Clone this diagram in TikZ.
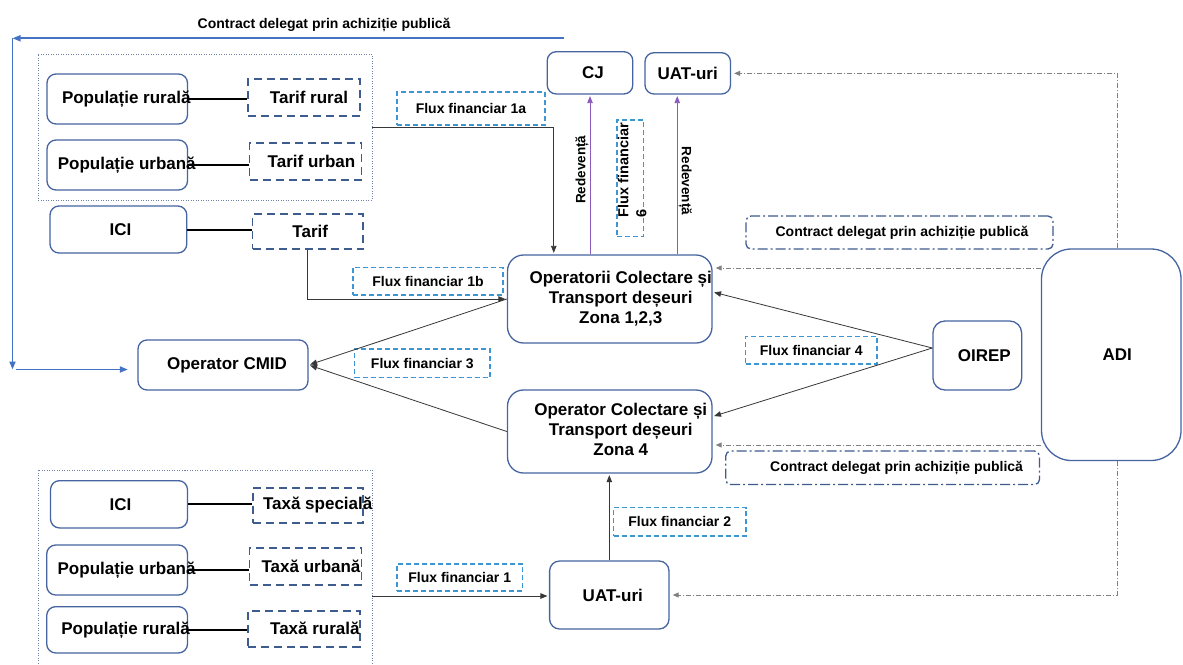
\documentclass[tikz,border=0pt]{standalone}
\usepackage{fontspec}
\setmainfont{Liberation Sans}
\usetikzlibrary{arrows.meta,calc}
\definecolor{boxc}{RGB}{70,100,160}
\definecolor{tarc}{RGB}{62,92,142}
\definecolor{fluxc}{RGB}{60,150,210}
\definecolor{grpc}{RGB}{110,130,170}
\definecolor{conc}{RGB}{55,55,55}
\definecolor{purc}{RGB}{140,90,190}
\definecolor{greyc}{RGB}{128,128,128}
\definecolor{bluc}{RGB}{68,114,196}
\newcommand{\sh}[2]{\makebox[0pt]{\hspace*{#1}#2}}
\tikzset{
 rbox/.style={draw=boxc, line width=1.3pt, rounded corners=9pt, inner sep=0pt, font=\bfseries\fontsize{17}{20}\selectfont},
 tbox/.style={draw=tarc, line width=1.8pt, dash pattern=on 8pt off 5pt, inner sep=0pt, font=\bfseries\fontsize{17}{20}\selectfont},
 fbox/.style={draw=fluxc, line width=1.4pt, dash pattern=on 5pt off 3pt, inner sep=0pt, font=\bfseries\fontsize{14}{17}\selectfont},
 cbox/.style={draw=tarc, line width=1.3pt, dash pattern=on 10pt off 3pt on 2pt off 3pt, rounded corners=5pt, inner sep=0pt, font=\bfseries\fontsize{14}{17}\selectfont},
 grp/.style={draw=grpc, line width=0.8pt, dash pattern=on 1pt off 1.5pt, inner sep=0pt},
 con/.style={draw=conc, line width=0.8pt, shorten >=1.5pt, -{Triangle[length=7pt,width=5.5pt]}},
 pur/.style={draw=purc, line width=0.9pt, shorten >=1.5pt, -{Triangle[length=7pt,width=5.5pt]}},
 gda/.style={draw=greyc, line width=1pt, dash pattern=on 5pt off 2pt on 1pt off 2pt, shorten >=3pt, -{Triangle[length=6pt,width=5pt]}},
 blu/.style={draw=bluc, line width=1.8pt, -{Triangle[length=8pt,width=6pt]}},
 lnk/.style={draw=black, line width=2pt},
 lbl/.style={font=\bfseries\fontsize{13.5}{16}\selectfont, inner sep=1pt},
}
\begin{document}
\begin{tikzpicture}[x=1pt,y=-1pt]
\useasboundingbox (0,0) rectangle (1183,664);
\fill[white] (0,0) rectangle (1183,664);

% group frames
\node[grp, minimum width=334pt, minimum height=146pt] (grp1) at (205,127) {};
\node[grp, minimum width=334pt, minimum height=252pt] (grp2) at (205,596) {};

% top-left boxes
\node[rbox, minimum width=140.5pt, minimum height=50pt] (popr1) at (117.25,99) {\sh{18pt}{Populație rurală}};
\node[rbox, minimum width=140.5pt, minimum height=50pt] (popu1) at (117.25,165) {\sh{19pt}{Populație urbană}};
\node[rbox, minimum width=136.8pt, minimum height=47pt] (iciA) at (118.4,229.5) {\sh{4pt}{ICI}};
\node[tbox, minimum width=112pt, minimum height=37pt] (tarr1) at (304,97.5) {\sh{10pt}{Tarif rural}};
\node[tbox, minimum width=112pt, minimum height=37pt] (taru1) at (305.5,161.5) {\sh{12pt}{Tarif urban}};
\node[tbox, minimum width=110.5pt, minimum height=35pt] (tarI) at (307.75,231.5) {\sh{5pt}{Tarif}};

% bottom-left boxes
\node[rbox, minimum width=137pt, minimum height=47.3pt] (iciB) at (119,504.3) {\sh{3pt}{ICI}};
\node[rbox, minimum width=140.8pt, minimum height=50pt] (popu2) at (117.1,570) {\sh{19pt}{Populație urbană}};
\node[rbox, minimum width=140.8pt, minimum height=46.3pt] (popr2) at (117.1,629.8) {\sh{17pt}{Populație rurală}};
\node[tbox, minimum width=110.2pt, minimum height=35pt] (taxs) at (307.7,505.5) {\sh{20pt}{Taxă specială}};
\node[tbox, minimum width=112pt, minimum height=37pt] (taxu) at (305.5,566.5) {\sh{11pt}{Taxă urbană}};
\node[tbox, minimum width=111.7pt, minimum height=35.7pt] (taxr) at (303.85,628.8) {\sh{22pt}{Taxă rurală}};

% main boxes
\node[rbox, minimum width=85.6pt, minimum height=42.3pt] (cj) at (590,72.85) {\sh{6pt}{CJ}};
\node[rbox, minimum width=85.5pt, minimum height=41.3pt] (uat1) at (687.75,73.35) {UAT-uri};
\node[rbox, rounded corners=16pt, minimum width=204.5pt, minimum height=88pt] (op) at (609.75,299) {\sh{22pt}{\begin{tabular}{@{}c@{}}Operatorii Colectare și\\Transport deșeuri\\Zona 1,2,3\end{tabular}}};
\node[rbox, rounded corners=16pt, minimum width=204.5pt, minimum height=83pt] (z4) at (609.75,431.5) {\sh{22pt}{\begin{tabular}{@{}c@{}}Operator Colectare și\\Transport deșeuri\\Zona 4\end{tabular}}};
\node[rbox, minimum width=170pt, minimum height=50pt] (cmid) at (223,365) {\sh{8pt}{Operator CMID}};
\node[rbox, rounded corners=12pt, minimum width=88.7pt, minimum height=69pt] (oirep) at (977.3,355.5) {\sh{14pt}{OIREP}};
\node[rbox, rounded corners=30pt, minimum width=139.5pt, minimum height=211.5pt] (adi) at (1111.25,354.75) {\sh{12pt}{ADI}};
\node[rbox, rounded corners=10pt, minimum width=119.4pt, minimum height=68pt] (uat2) at (609.3,595) {\sh{7pt}{UAT-uri}};

% flux labels
\node[fbox, minimum width=148pt, minimum height=33pt] (fl1a) at (471,108.5) {Flux financiar 1a};
\node[fbox, minimum width=150pt, minimum height=27.3pt] (fl1b) at (428,281.3) {Flux financiar 1b};
\node[fbox, minimum width=135.4pt, minimum height=28.7pt] (fl3) at (422.3,363.3) {Flux financiar 3};
\node[fbox, minimum width=131.5pt, minimum height=27.3pt] (fl4) at (811.25,350.3) {Flux financiar 4};
\node[fbox, minimum width=132.5pt, minimum height=28.3pt] (fl2) at (679.75,521.8) {Flux financiar 2};
\node[fbox, minimum width=125.4pt, minimum height=27pt] (fl1) at (459.7,577.5) {Flux financiar 1};
\node[fbox, minimum width=26.8pt, minimum height=116.7pt] (fl6) at (630.2,178.3) {};
\node[rotate=90, align=left, inner sep=0pt, font=\bfseries\fontsize{14.5}{18}\selectfont] (fl6t) at ([yshift=8pt,xshift=2pt]fl6.center) {Flux financiar\\6};

% contract labels
\node[cbox, minimum width=307pt, minimum height=33pt] (ct1) at (899.5,232.5) {\sh{5pt}{Contract delegat prin achiziție publică}};
\node[cbox, minimum width=313.8pt, minimum height=33.5pt] (ct2) at (882.6,467.8) {\sh{28pt}{Contract delegat prin achiziție publică}};

% links population - tariff
\draw[lnk] (popr1.east) -- (popr1.east -| tarr1.west);
\draw[lnk] (popu1.east) -- (popu1.east -| taru1.west);
\draw[lnk] (iciA.east) -- (iciA.east -| tarI.west);
\draw[lnk] (iciB.east) -- (iciB.east -| taxs.west);
\draw[lnk] (popu2.east) -- (popu2.east -| taxu.west);
\draw[lnk] (popr2.east) -- (popr2.east -| taxr.west);

% financial flows
\draw[con] (grp1.east) -| ([xshift=-56pt]op.north);
\draw[con] (tarI.south) |- (op.west);
\draw[con] (op.west) -- (cmid.east);
\draw[con] (z4.west) -- (cmid.east);
\coordinate (oi) at ([yshift=7.5pt]oirep.west);
\draw[con] (oi) -- ([yshift=7pt]op.east);
\draw[con] (oi) -- ([yshift=15pt]z4.east);
\draw[con] (uat2.north) -- (uat2.north |- z4.south);
\draw[con] (grp2.east) -- (grp2.east -| uat2.west);

% redevente
\draw[pur] (op.north -| cj.south) -- node[lbl, rotate=90, anchor=south, pos=0.53] {Redevență} (cj.south);
\coordinate (ru) at ([xshift=-10.5pt]uat1.south);
\draw[pur] (ru |- op.north) -- node[lbl, rotate=-90, anchor=south, pos=0.46] {Redevență} (ru);

% contracts from ADI
\coordinate (a1) at ([yshift=31pt]op.east);
\draw[gda] (a1 -| adi.west) -- (a1);
\coordinate (a2) at ([yshift=-13.5pt]z4.east);
\draw[gda] (a2 -| adi.west) -- (a2);
\draw[gda] ([xshift=6pt]adi.north) |- (uat1.east);
\draw[gda] ([xshift=6pt]adi.south) |- (uat2.east);

% blue contract line to CMID
\coordinate (bs) at (564,38.3);
\coordinate (bc) at (12.5,38.3);
\draw[blu] (bs) -- node[pos=0.435, anchor=base, yshift=10pt, inner sep=0pt, font=\bfseries\fontsize{14}{17}\selectfont, text=black] {Contract delegat prin achiziție publică} (bc);
\coordinate (bl) at ([yshift=-4.5pt]cmid.west);
\coordinate (bd) at (bc |- bl);
\draw[blu] (bc) -- (bd);
\draw[blu] ([xshift=3.5pt]bd) -- ([xshift=-9.5pt]bl);
\end{tikzpicture}
\end{document}
